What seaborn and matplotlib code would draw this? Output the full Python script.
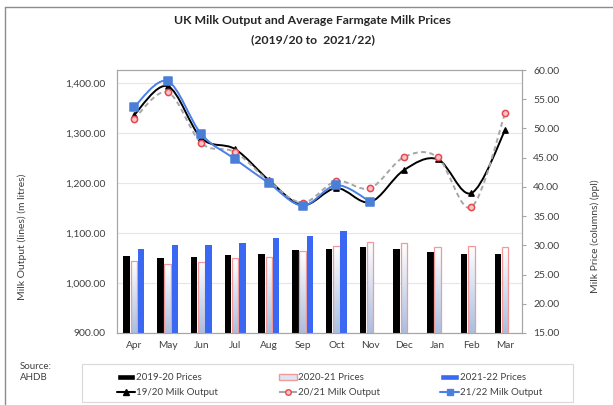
import numpy as np
import pandas as pd
import matplotlib
matplotlib.use("Agg")
import matplotlib.pyplot as plt
from matplotlib.path import Path
from matplotlib.patches import PathPatch, Rectangle
from matplotlib.lines import Line2D
from matplotlib.colors import LinearSegmentedColormap
from matplotlib.ticker import FuncFormatter, MultipleLocator
import seaborn as sns

months = ["Apr", "May", "Jun", "Jul", "Aug", "Sep", "Oct", "Nov", "Dec", "Jan", "Feb", "Mar"]

# prices (ppl) - columns, right axis
price_1920 = [28.2, 27.8, 27.95, 28.35, 28.6, 29.2, 29.3, 29.8, 29.3, 28.8, 28.6, 28.45]
price_2021 = [27.4, 26.8, 27.15, 27.8, 28.05, 29.0, 29.9, 30.6, 30.35, 29.65, 29.9, 29.65]
price_2122 = [29.3, 30.05, 30.05, 30.45, 31.2, 31.6, 32.45, np.nan, np.nan, np.nan, np.nan, np.nan]

# milk output (m litres) - lines, left axis
output_1920 = [1336, 1394, 1290, 1268, 1206, 1156, 1190, 1162, 1226, 1248, 1180, 1306]
output_2021 = [1328, 1382, 1280, 1262, 1204, 1161, 1204, 1190, 1252, 1252, 1152, 1340]
output_2122 = [1352, 1404, 1298, 1248, 1200, 1155, 1196, 1163, np.nan, np.nan, np.nan, np.nan]

price_labels = ["2019-20 Prices", "2020-21 Prices", "2021-22 Prices"]
output_labels = ["19/20 Milk Output", "20/21 Milk Output", "21/22 Milk Output"]

sns.set_style("white")
plt.rcParams["font.family"] = ["Lato", "DejaVu Sans"]
txt = "#404040"
spine = "#a6a6a6"

fig = plt.figure(figsize=(6.13, 4.05), dpi=100)
ax = fig.add_axes([117 / 613, 72 / 405, 405 / 613, 263 / 405])
axp = ax.twinx()
axl = ax.twinx()

# columns
prices = pd.DataFrame({
    "month": months * 3,
    "season": np.repeat(price_labels, len(months)),
    "price": price_1920 + price_2021 + price_2122,
})
sns.barplot(data=prices, x="month", y="price", hue="season", order=months,
            hue_order=price_labels, palette=["#000000", "#e3e8f2", "#3b68f2"],
            width=0.64, gap=0.1, saturation=1, legend=False, ax=axp)
axp.set_ylim(15, 60)
pmin = axp.get_ylim()[0]

grad = LinearSegmentedColormap.from_list("g", ["#a9bfe0", "#ffffff"])
for bar in axp.containers[1]:
    bar.set_edgecolor("#f29a9a")
    bar.set_linewidth(0.9)
    bar.set_facecolor("none")
    x0 = bar.get_x()
    axp.imshow(np.linspace(0, 1, 64).reshape(-1, 1), cmap=grad, origin="lower",
               extent=[x0, x0 + bar.get_width(), pmin, bar.get_y() + bar.get_height()],
               aspect="auto", zorder=bar.get_zorder() - 0.1)
for bar in axp.containers[0]:
    bar.set_edgecolor("none")
for bar in axp.containers[2]:
    bar.set_edgecolor("none")


def smooth_path(xs, ys):
    # excel-style smoothed line (catmull-rom as cubic bezier)
    pts = np.column_stack([xs, ys])
    pts = pts[~np.isnan(pts[:, 1])]
    ext = np.vstack([pts[0], pts, pts[-1]])
    verts = [pts[0]]
    codes = [Path.MOVETO]
    for i in range(len(pts) - 1):
        p0, p1, p2, p3 = ext[i], ext[i + 1], ext[i + 2], ext[i + 3]
        verts += [p1 + (p2 - p0) / 6, p2 - (p3 - p1) / 6, p2]
        codes += [Path.CURVE4] * 3
    return Path(verts, codes)


xi = np.arange(len(months))
series = [
    (output_1920, "black", "-", "^", "black", "black", 14),
    (output_2021, "#a6a6a6", (0, (2.5, 1.8)), "o", "#f6c6c6", "#e8474f", 20),
    (output_2122, "#4a80e8", "-", "s", "#4a7fd8", "#4a7fd8", 26),
]
for vals, lc, ls, mk, fc, ec, ms in series:
    axl.add_patch(PathPatch(smooth_path(xi, np.array(vals, dtype=float)), fill=False,
                            edgecolor=lc, linestyle=ls, linewidth=1.4, zorder=2))
    sns.scatterplot(x=xi, y=vals, marker=mk, s=ms, color=fc, edgecolor=ec,
                    linewidth=1.1, zorder=3, ax=axl, legend=False)

# axes
ax.set_xlim(-0.5, 11.5)
ax.set_ylim(900, 1426.5)
axl.set_ylim(900, 1426.5)
axp.set_ylim(15, 60)
ax.yaxis.set_major_locator(MultipleLocator(100))
axp.yaxis.set_major_locator(MultipleLocator(5))
ax.yaxis.set_major_formatter(FuncFormatter(lambda v, p: f"{v:,.2f}"))
axp.yaxis.set_major_formatter(FuncFormatter(lambda v, p: f"{v:.2f}"))
ax.grid(axis="y", color="#e6e6e6", linewidth=0.8)
ax.set_axisbelow(True)
axl.yaxis.set_visible(False)
for s in axl.spines.values():
    s.set_visible(False)
for a in (ax, axp):
    for s in a.spines.values():
        s.set_color(spine)
        s.set_linewidth(0.8)
    a.set_xlabel("")
    a.set_ylabel("")
ax.tick_params(axis="y", length=0, pad=8, labelsize=7.5, labelcolor=txt)
ax.tick_params(axis="x", length=0, pad=6, labelsize=7.3, labelcolor=txt)
axp.tick_params(axis="y", length=3, color=spine, pad=5, labelsize=7.5, labelcolor=txt)

fig.text(22 / 613, 1 - 237 / 405, "Milk Output (lines) (m litres)", rotation=90,
         ha="center", va="center", fontsize=7.5, color=txt)
fig.text(595 / 613, 1 - 236 / 405, "Milk Price (columns) (ppl)", rotation=90,
         ha="center", va="center", fontsize=7.5, color=txt)
fig.text(0.51, 1 - 20 / 405, "UK Milk Output and Average Farmgate Milk Prices",
         ha="center", va="center", fontsize=8.8, fontweight="bold", color="#262626")
fig.text(0.51, 1 - 40 / 405, "(2019/20 to  2021/22)",
         ha="center", va="center", fontsize=8.8, fontweight="bold", color="#262626")
fig.text(20 / 613, 1 - 372 / 405, "Source:\nAHDB", ha="left", va="center",
         fontsize=7, color=txt, linespacing=1.3)

# figure border and legend frame
fig.add_artist(Line2D([5 / 613, 5 / 613], [0, 1 - 7 / 405], color="#8c8c8c", lw=1))
fig.add_artist(Line2D([5 / 613, 1], [1 - 7 / 405, 1 - 7 / 405], color="#8c8c8c", lw=1))
fig.add_artist(Rectangle((82 / 613, 3 / 405), 491 / 613, 38 / 405, transform=fig.transFigure,
                         facecolor="none", edgecolor="#d9d9d9", linewidth=0.8))

handles = [
    Rectangle((0, 0), 1, 1, facecolor="black"),
    Line2D([], [], color="black", marker="^", markersize=4),
    Rectangle((0, 0), 1, 1, facecolor="#dfe5f0", edgecolor="#f29a9a"),
    Line2D([], [], color="#a6a6a6", linestyle="--", marker="o", markersize=4,
           markerfacecolor="#f6c6c6", markeredgecolor="#e8474f"),
    Rectangle((0, 0), 1, 1, facecolor="#3b68f2"),
    Line2D([], [], color="#4a80e8", marker="s", markersize=4, markerfacecolor="#4a7fd8"),
]
labels = [price_labels[0], output_labels[0], price_labels[1], output_labels[1],
          price_labels[2], output_labels[2]]
leg = fig.legend(handles, labels, ncol=3, loc="lower left", mode="expand",
                 bbox_to_anchor=(112 / 613, 3 / 405, 435 / 613, 38 / 405),
                 fontsize=7, frameon=False, handlelength=1.9, handleheight=0.6,
                 handletextpad=0.1, borderpad=0.5, labelspacing=0.6, borderaxespad=0)
for t in leg.get_texts():
    t.set_color(txt)

fig.savefig("out.png", dpi=100)
